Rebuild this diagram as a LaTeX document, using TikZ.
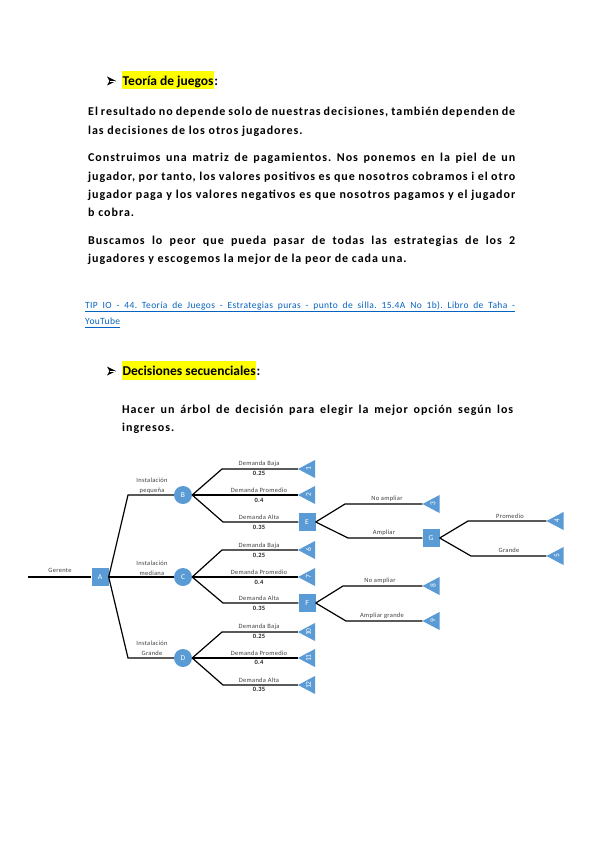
\documentclass[tikz,border=0pt]{standalone}
\usepackage{fontspec}
\setmainfont{Carlito}
\newfontfamily\bodyfont[LetterSpace=8]{Carlito}
\newfontfamily\linkfont[LetterSpace=4]{Carlito}
\newfontfamily\labfont[LetterSpace=4]{Carlito}
\usepackage{graphicx}
\definecolor{nodeblue}{RGB}{91,155,213}
\definecolor{linkblue}{RGB}{5,99,193}
\definecolor{hlyellow}{RGB}{255,255,0}
\newcommand\jfull[1]{\hbox to 427pt{#1}}
\newcommand\jfour[1]{\hbox to 391pt{#1}}
\begin{document}
\begin{tikzpicture}[x=1pt,y=-1pt,
  hd/.style={font=\fontsize{13.5}{15}\selectfont\bfseries, inner sep=0pt},
  hl/.style={hd, fill=hlyellow, text height=14.5pt, text depth=4pt, inner xsep=0.5pt},
  bul/.style={fill=black},
  para/.style={inner sep=0pt, font=\bodyfont\fontsize{12}{18.4}\selectfont\bfseries\frenchspacing},
  lnk/.style={inner sep=0pt, text=linkblue, font=\linkfont\fontsize{9.5}{10}\selectfont\frenchspacing},
  uline/.style={linkblue, line width=0.55pt},
  dec/.style={rectangle, fill=nodeblue, minimum width=17pt, minimum height=18pt, inner sep=0pt, text=white, font=\fontsize{7.5}{8}\selectfont},
  chance/.style={circle, fill=nodeblue, minimum size=18pt, inner sep=0pt, text=white, font=\fontsize{7.5}{8}\selectfont},
  term/.style={rectangle, minimum width=17pt, minimum height=18pt, inner sep=0pt, text=white, font=\fontsize{7.5}{7.5}\selectfont,
    path picture={\fill[nodeblue] (path picture bounding box.west) -- (path picture bounding box.north east) -- (path picture bounding box.south east) -- cycle;}},
  br/.style={line width=1.2pt, black},
  lab/.style={font=\labfont\fontsize{6.5}{7}\selectfont, text=black!75, inner sep=0pt},
  prob/.style={font=\labfont\fontsize{6.5}{7}\selectfont\bfseries, text=black!85, inner sep=0pt}
]
\fill[white] (0,0) rectangle (600,848);
\useasboundingbox (0,0) rectangle (600,848);

% Heading 1
\fill[bul] (107,76.5) -- (116,81) -- (107,85.5) -- (109.5,81) -- cycle;
\draw[white, line width=0.4pt] (109.5,81) -- (115,81);
\node[hl, anchor=base west] (h1) at (122,85.5) {Teoría de juegos};
\node[hd, anchor=base west] (h1c) at (h1.base east) {:};

\node[para, anchor=base west] (p1) at (88,115.7) {\vtop{%
\jfull{El resultado no depende solo de nuestras decisiones, también dependen de}
\hbox{las decisiones de los otros jugadores.}}};
\node[para, anchor=base west] (p2) at (88,161.7) {\vtop{%
\jfull{Construimos una matriz de pagamientos. Nos ponemos en la piel de un}
\jfull{jugador, por tanto, los valores positivos es que nosotros cobramos i el otro}
\jfull{jugador paga y los valores negativos es que nosotros pagamos y el jugador}
\hbox{b cobra.}}};
\node[para, anchor=base west] (p3) at (88,244) {\vtop{%
\jfull{Buscamos lo peor que pueda pasar de todas las estrategias de los 2}
\hbox{jugadores y escogemos la mejor de la peor de cada una.}}};

% Link
\node[lnk, anchor=base west] (l1) at (85,308.5) {\hbox to 430pt{TIP IO - 44. Teoría de Juegos - Estrategias puras - punto de silla. 15.4A No 1b). Libro de Taha -}};
\node[lnk, anchor=base west] (l2) at (85,324.5) {YouTube};
\draw[uline] ([yshift=-2.4pt]l1.base west) -- ([yshift=-2.4pt]l1.base east);
\draw[uline] ([yshift=-2.4pt]l2.base west) -- ([yshift=-2.4pt]l2.base east);

% Heading 2
\fill[bul] (107,366.5) -- (116,371) -- (107,375.5) -- (109.5,371) -- cycle;
\draw[white, line width=0.4pt] (109.5,371) -- (115,371);
\node[hl, anchor=base west] (h2) at (122,375.5) {Decisiones secuenciales};
\node[hd, anchor=base west] (h2c) at (h2.base east) {:};

\node[para, anchor=base west] (p4) at (122,413.3) {\vtop{%
\jfour{Hacer un árbol de decisión para elegir la mejor opción según los}
\hbox{ingresos.}}};

% Tree nodes
\coordinate (g0) at (28,577);
\node[dec] (A) at (100,577) {A};
\node[chance] (B) at (183,495) {B};
\node[chance] (C) at (183,577) {C};
\node[chance] (D) at (183,658) {D};
\node[term] (t1) at (306.5,469) {\hspace*{4pt}\rotatebox{90}{1}};
\node[term] (t2) at (306.5,495) {\hspace*{4pt}\rotatebox{90}{2}};
\node[dec] (E) at (307,522) {E};
\node[term] (t6) at (306.5,550) {\hspace*{4pt}\rotatebox{90}{6}};
\node[term] (t7) at (306.5,577) {\hspace*{4pt}\rotatebox{90}{7}};
\node[dec] (F) at (307,603) {F};
\node[term] (t10) at (306.5,632) {\hspace*{4pt}\rotatebox{90}{10}};
\node[term] (t11) at (306.5,658) {\hspace*{4pt}\rotatebox{90}{11}};
\node[term] (t12) at (306.5,685) {\hspace*{4pt}\rotatebox{90}{12}};
\node[term] (t3) at (431,504) {\hspace*{4pt}\rotatebox{90}{3}};
\node[dec] (G) at (431,538) {G};
\node[term] (t4) at (555,521) {\hspace*{4pt}\rotatebox{90}{4}};
\node[term] (t5) at (555,556) {\hspace*{4pt}\rotatebox{90}{5}};
\node[term] (t8) at (431,586) {\hspace*{4pt}\rotatebox{90}{8}};
\node[term] (t9) at (431,621) {\hspace*{4pt}\rotatebox{90}{9}};

% Connectors
\draw[br] (g0) -- (A);
\draw[br] (A.east) -- (128,495) -- (B);
\draw[br] (A) -- (C);
\draw[br] (A.east) -- (128,658) -- (D);
\draw[br] (B.east) -- (222,469) -- (t1.west);
\draw[br] (B) -- (t2.west);
\draw[br] (B.east) -- (223,522) -- (E);
\draw[br] (C.east) -- (222,550) -- (t6.west);
\draw[br] (C) -- (t7.west);
\draw[br] (C.east) -- (223,603) -- (F);
\draw[br] (D.east) -- (222,632) -- (t10.west);
\draw[br] (D) -- (t11.west);
\draw[br] (D.east) -- (223,685) -- (t12.west);
\draw[br] (E.east) -- (345,504) -- (t3.west);
\draw[br] (E.east) -- (348,538) -- (G);
\draw[br] (G.east) -- (468,521) -- (t4.west);
\draw[br] (G.east) -- (471,556) -- (t5.west);
\draw[br] (F.east) -- (343,586) -- (t8.west);
\draw[br] (F.east) -- (346,621) -- (t9.west);

% Labels
\node[lab] (lg) at (60,570) {Gerente};
\node[lab, align=center, font=\labfont\fontsize{6.5}{10}\selectfont] (lB) at (152,486) {Instalación\\pequeña};
\node[lab, align=center, font=\labfont\fontsize{6.5}{10}\selectfont] (lC) at (152,568) {Instalación\\mediana};
\node[lab, align=center, font=\labfont\fontsize{6.5}{10}\selectfont] (lD) at (152,648) {Instalación\\Grande};

\node[lab] (lb1) at (259,463.5) {Demanda Baja};
\node[prob] (pb1) at (259,473.5) {0.25};
\node[lab] (lb2) at (259,490.5) {Demanda Promedio};
\node[prob] (pb2) at (259,500.5) {0.4};
\node[lab] (lb3) at (259,517.5) {Demanda Alta};
\node[prob] (pb3) at (259,527) {0.35};

\node[lab] (lc1) at (259,545.5) {Demanda Baja};
\node[prob] (pc1) at (259,555) {0.25};
\node[lab] (lc2) at (259,572.5) {Demanda Promedio};
\node[prob] (pc2) at (259,582) {0.4};
\node[lab] (lc3) at (259,598.5) {Demanda Alta};
\node[prob] (pc3) at (259,608) {0.35};

\node[lab] (ld1) at (259,627) {Demanda Baja};
\node[prob] (pd1) at (259,636.5) {0.25};
\node[lab] (ld2) at (259,653) {Demanda Promedio};
\node[prob] (pd2) at (259,662.5) {0.4};
\node[lab] (ld3) at (259,680) {Demanda Alta};
\node[prob] (pd3) at (259,689.5) {0.35};

\node[lab] (le1) at (387,499) {No ampliar};
\node[lab] (le2) at (384,533) {Ampliar};
\node[lab] (lg1) at (510,516) {Promedio};
\node[lab] (lg2) at (509,550) {Grande};
\node[lab] (lf1) at (380,580.5) {No ampliar};
\node[lab] (lf2) at (382,615.5) {Ampliar grande};
\end{tikzpicture}
\end{document}
